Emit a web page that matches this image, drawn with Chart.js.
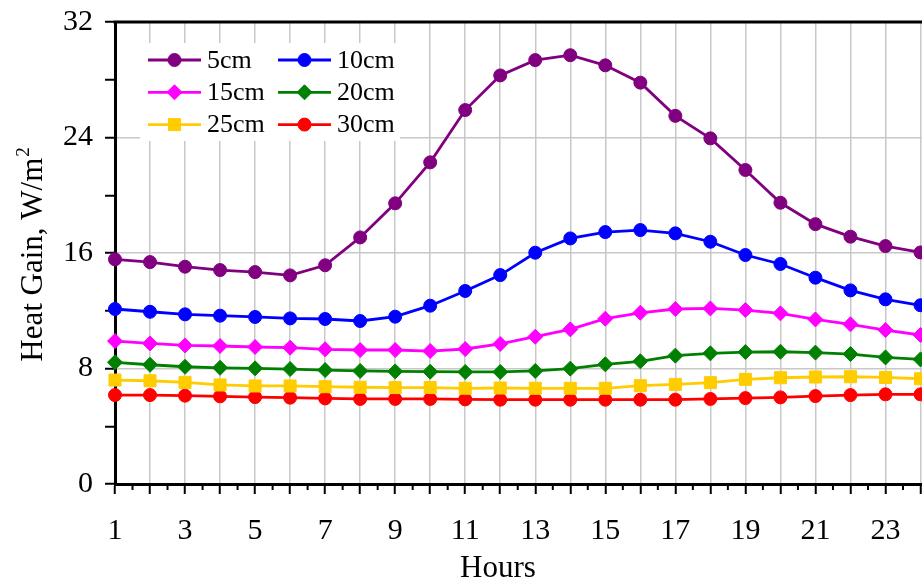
<!DOCTYPE html>
<html>
<head>
<meta charset="utf-8">
<title>Heat Gain</title>
<script src="https://cdn.jsdelivr.net/npm/chart.js@4.4.0/dist/chart.umd.min.js"></script>
<style>
  html, body { margin: 0; padding: 0; background: #fff; overflow: hidden; }
  #wrap { position: relative; width: 922px; height: 584px; overflow: hidden; }
</style>
</head>
<body>
<div id="wrap"><canvas id="heatChart" width="932" height="584"></canvas></div>
<script>
// DATA
const hours = [1, 2, 3, 4, 5, 6, 7, 8, 9, 10, 11, 12, 13, 14, 15, 16, 17, 18, 19, 20, 21, 22, 23, 24];
const seriesNames = ['5cm', '10cm', '15cm', '20cm', '25cm', '30cm'];
const cm5  = [15.56, 15.37, 15.05, 14.82, 14.68, 14.45, 15.15, 17.08, 19.44, 22.28, 25.9, 28.3, 29.36, 29.7, 29.0, 27.8, 25.5, 23.94, 21.75, 19.48, 18.0, 17.13, 16.48, 16.04];
const cm10 = [12.12, 11.93, 11.75, 11.66, 11.57, 11.47, 11.43, 11.29, 11.59, 12.35, 13.37, 14.47, 16.02, 17.01, 17.45, 17.59, 17.36, 16.78, 15.86, 15.24, 14.29, 13.41, 12.79, 12.38];
const cm15 = [9.90, 9.74, 9.60, 9.56, 9.49, 9.44, 9.33, 9.28, 9.28, 9.21, 9.35, 9.70, 10.20, 10.71, 11.45, 11.86, 12.12, 12.16, 12.05, 11.82, 11.40, 11.06, 10.66, 10.32];
const cm20 = [8.43, 8.26, 8.12, 8.05, 8.01, 7.96, 7.89, 7.83, 7.80, 7.78, 7.76, 7.76, 7.83, 7.99, 8.29, 8.50, 8.89, 9.05, 9.14, 9.16, 9.10, 9.00, 8.77, 8.63];
const cm25 = [7.20, 7.15, 7.04, 6.86, 6.79, 6.79, 6.74, 6.70, 6.68, 6.68, 6.63, 6.65, 6.63, 6.63, 6.63, 6.81, 6.90, 7.02, 7.25, 7.36, 7.41, 7.43, 7.38, 7.29];
const cm30 = [6.16, 6.16, 6.12, 6.07, 6.02, 5.98, 5.93, 5.89, 5.89, 5.89, 5.86, 5.84, 5.84, 5.84, 5.84, 5.84, 5.84, 5.89, 5.95, 6.00, 6.09, 6.16, 6.21, 6.21];
const yMajorTicks = [0, 8, 16, 24, 32];

const serif = '"Liberation Serif", "Times New Roman", serif';
Chart.defaults.font.family = serif;
Chart.defaults.color = '#000';

function makeSet(label, values, color, style, radius) {
    return {
        label: label,
        data: hours.map((h, i) => ({ x: h, y: values[i] })),
        borderColor: color,
        backgroundColor: color,
        pointBackgroundColor: color,
        pointBorderColor: color,
        pointBorderWidth: 1,
        pointStyle: style,
        pointRadius: radius,
        borderWidth: 2.8,
        tension: 0,
        clip: false
    };
}

const Data = {
    datasets: [
        makeSet(seriesNames[0], cm5, '#800080', 'circle', 6.5),
        makeSet(seriesNames[1], cm10, '#0000ff', 'circle', 6.5),
        makeSet(seriesNames[2], cm15, '#ff00ff', 'rectRot', 7.5),
        makeSet(seriesNames[3], cm20, '#008000', 'rectRot', 7.5),
        makeSet(seriesNames[4], cm25, '#ffcc00', 'rect', 8.5),
        makeSet(seriesNames[5], cm30, '#ff0000', 'circle', 6.5)
    ]
};

// frame top line, minor x ticks, axis titles and the legend box
const decor = {
    id: 'decor',
    afterDraw(chart) {
        const ctx = chart.ctx;
        const area = chart.chartArea;
        const xs = chart.scales.x;
        ctx.save();
        ctx.strokeStyle = '#000';
        ctx.lineWidth = 3;
        ctx.beginPath();
        ctx.moveTo(area.left - 1.5, area.top);
        ctx.lineTo(area.right, area.top);
        ctx.stroke();

        ctx.lineWidth = 2;
        xs.ticks.forEach(t => {
            if (!Number.isInteger(t.value)) {
                const px = xs.getPixelForValue(t.value);
                ctx.beginPath();
                ctx.moveTo(px, area.bottom);
                ctx.lineTo(px, area.bottom + 6);
                ctx.stroke();
            }
        });

        // x title
        ctx.fillStyle = '#000';
        ctx.font = '31px ' + serif;
        ctx.textAlign = 'center';
        ctx.textBaseline = 'alphabetic';
        ctx.fillText('Hours', 498, 577);

        // y title with superscript
        const main = 'Heat Gain, W/m';
        ctx.save();
        ctx.translate(42, 255);
        ctx.rotate(-Math.PI / 2);
        ctx.textAlign = 'left';
        ctx.font = '31px ' + serif;
        const w1 = ctx.measureText(main).width;
        ctx.font = '19px ' + serif;
        const w2 = ctx.measureText('2').width;
        const sx = -(w1 + w2) / 2;
        ctx.font = '31px ' + serif;
        ctx.fillText(main, sx, 0);
        ctx.font = '19px ' + serif;
        ctx.fillText('2', sx + w1 + 1, -13);
        ctx.restore();

        // legend
        ctx.fillStyle = '#fff';
        ctx.fillRect(140, 43, 260, 98);
        chart.data.datasets.forEach((ds, i) => {
            const col = i % 2, row = Math.floor(i / 2);
            const x1 = col ? 278 : 148;
            const x2 = x1 + 53;
            const cy = 60 + row * 32.3;
            ctx.strokeStyle = ds.borderColor;
            ctx.lineWidth = ds.borderWidth;
            ctx.beginPath();
            ctx.moveTo(x1, cy);
            ctx.lineTo(x2, cy);
            ctx.stroke();
            ctx.fillStyle = ds.pointBackgroundColor;
            ctx.strokeStyle = ds.pointBorderColor;
            ctx.lineWidth = 1;
            Chart.helpers.drawPoint(ctx, { pointStyle: ds.pointStyle, radius: ds.pointRadius, rotation: 0, borderWidth: 1 }, (x1 + x2) / 2, cy);
            ctx.fillStyle = '#000';
            ctx.font = '26px ' + serif;
            ctx.textAlign = 'left';
            ctx.textBaseline = 'middle';
            ctx.fillText(ds.label, x2 + 6, cy + 1);
        });
        ctx.restore();
    }
};

const logConfig = {
    type: 'line',
    data: Data,
    options: {
        responsive: false,
        animation: false,
        devicePixelRatio: 1,
        layout: { padding: { top: 22, left: 0, right: 0, bottom: 0 } },
        plugins: { legend: { display: false }, tooltip: { enabled: false } },
        scales: {
            x: {
                type: 'linear',
                min: 1,
                max: 24.057,
                afterBuildTicks: (scale) => {
                    const t = [];
                    hours.forEach(h => {
                        t.push({ value: h });
                        if (h < hours[hours.length - 1]) t.push({ value: h + 0.5 });
                    });
                    scale.ticks = t;
                },
                afterFit: (scale) => {
                    scale.height = 100;
                    scale.paddingLeft = 0;
                    scale.paddingRight = 0;
                },
                ticks: {
                    autoSkip: false,
                    maxRotation: 0,
                    padding: 19,
                    font: { size: 30 },
                    callback: (v) => (Number.isInteger(v) && v % 2 === 1) ? v : ''
                },
                grid: {
                    color: (c) => Number.isInteger(c.tick.value) ? '#c8c8c8' : 'rgba(0,0,0,0)',
                    lineWidth: 1.5,
                    tickColor: (c) => Number.isInteger(c.tick.value) ? '#000' : 'rgba(0,0,0,0)',
                    tickLength: 10,
                    tickWidth: 2
                },
                border: { color: '#000', width: 3 }
            },
            y: {
                min: 0,
                max: 32,
                afterFit: (scale) => {
                    scale.width = 115;
                    scale.paddingTop = 0;
                    scale.paddingBottom = 0;
                },
                ticks: {
                    stepSize: 2,
                    padding: 12,
                    font: { size: 30 },
                    callback: (v) => yMajorTicks.includes(v) ? v : ''
                },
                grid: {
                    color: (c) => (c.tick.value % 8 === 0 && c.tick.value > 0 && c.tick.value < 32) ? '#c8c8c8' : 'rgba(0,0,0,0)',
                    lineWidth: 1.5,
                    tickColor: '#000',
                    tickLength: 10,
                    tickWidth: 2
                },
                border: { color: '#000', width: 3 }
            }
        }
    },
    plugins: [decor]
};

const heatChart = new Chart(document.getElementById('heatChart'), logConfig);
</script>
</body>
</html>
